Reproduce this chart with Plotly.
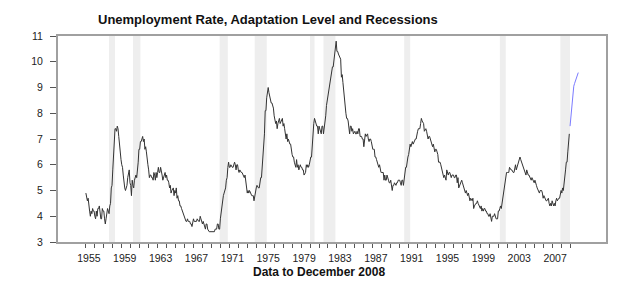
import plotly.graph_objects as go

start_year = 1955
# Monthly unemployment rate, Jan 1955 - Dec 2008 (one row per year)
unemployment_rate = [
    4.9, 4.7, 4.6, 4.7, 4.3, 4.2, 4.0, 4.2, 4.1, 4.3, 4.2, 4.2,
    4.0, 3.9, 4.2, 4.0, 4.3, 4.3, 4.4, 4.1, 3.9, 3.9, 4.3, 4.2,
    4.2, 3.9, 3.7, 3.9, 4.1, 4.3, 4.2, 4.1, 4.4, 4.5, 5.1, 5.2,
    5.8, 6.4, 6.7, 7.4, 7.4, 7.3, 7.5, 7.4, 7.1, 6.7, 6.2, 6.2,
    6.0, 5.9, 5.6, 5.2, 5.1, 5.0, 5.1, 5.2, 5.5, 5.7, 5.8, 5.3,
    5.2, 4.8, 5.4, 5.2, 5.1, 5.4, 5.5, 5.6, 5.5, 6.1, 6.1, 6.6,
    6.6, 6.9, 6.9, 7.0, 7.1, 6.9, 7.0, 6.6, 6.7, 6.5, 6.1, 6.0,
    5.8, 5.5, 5.6, 5.6, 5.5, 5.5, 5.4, 5.7, 5.6, 5.4, 5.7, 5.5,
    5.7, 5.9, 5.7, 5.7, 5.9, 5.6, 5.6, 5.4, 5.5, 5.5, 5.7, 5.5,
    5.6, 5.4, 5.4, 5.3, 5.1, 5.2, 4.9, 5.0, 5.1, 5.1, 4.8, 5.0,
    4.9, 5.1, 4.7, 4.8, 4.6, 4.6, 4.4, 4.4, 4.3, 4.2, 4.1, 4.0,
    4.0, 3.8, 3.8, 3.8, 3.9, 3.8, 3.8, 3.8, 3.7, 3.7, 3.6, 3.8,
    3.9, 3.8, 3.8, 3.8, 3.8, 3.9, 3.8, 3.8, 3.8, 4.0, 3.9, 3.8,
    3.7, 3.8, 3.7, 3.5, 3.5, 3.7, 3.7, 3.5, 3.4, 3.4, 3.4, 3.4,
    3.4, 3.4, 3.4, 3.4, 3.4, 3.5, 3.5, 3.5, 3.7, 3.7, 3.5, 3.5,
    3.9, 4.2, 4.4, 4.6, 4.8, 4.9, 5.0, 5.1, 5.4, 5.5, 5.9, 6.1,
    5.9, 5.9, 6.0, 5.9, 5.9, 5.9, 6.0, 6.1, 6.0, 5.8, 6.0, 6.0,
    5.8, 5.7, 5.8, 5.7, 5.7, 5.7, 5.6, 5.6, 5.5, 5.6, 5.3, 5.2,
    4.9, 5.0, 4.9, 5.0, 4.9, 4.9, 4.8, 4.8, 4.8, 4.6, 4.8, 4.9,
    5.1, 5.2, 5.1, 5.1, 5.1, 5.4, 5.5, 5.5, 5.9, 6.0, 6.6, 7.2,
    8.1, 8.1, 8.6, 8.8, 9.0, 8.8, 8.6, 8.4, 8.4, 8.4, 8.3, 8.2,
    7.9, 7.7, 7.6, 7.7, 7.4, 7.6, 7.8, 7.8, 7.6, 7.7, 7.8, 7.8,
    7.5, 7.6, 7.4, 7.2, 7.0, 7.2, 6.9, 7.0, 6.8, 6.8, 6.8, 6.4,
    6.4, 6.3, 6.3, 6.1, 6.0, 5.9, 6.2, 5.9, 6.0, 5.8, 5.9, 6.0,
    5.9, 5.9, 5.8, 5.8, 5.6, 5.7, 5.7, 6.0, 5.9, 6.0, 5.9, 6.0,
    6.3, 6.3, 6.3, 6.9, 7.5, 7.6, 7.8, 7.7, 7.5, 7.5, 7.5, 7.2,
    7.5, 7.4, 7.4, 7.2, 7.5, 7.5, 7.2, 7.4, 7.6, 7.9, 8.3, 8.5,
    8.6, 8.9, 9.0, 9.3, 9.4, 9.6, 9.8, 9.8, 10.1, 10.4, 10.8, 10.8,
    10.4, 10.4, 10.3, 10.2, 10.1, 10.1, 9.4, 9.5, 9.2, 8.8, 8.5, 8.3,
    8.0, 7.8, 7.8, 7.7, 7.4, 7.2, 7.5, 7.5, 7.3, 7.4, 7.2, 7.3,
    7.3, 7.2, 7.2, 7.3, 7.2, 7.4, 7.4, 7.1, 7.1, 7.1, 7.0, 7.0,
    6.7, 7.2, 7.2, 7.1, 7.2, 7.2, 7.0, 6.9, 7.0, 7.0, 6.9, 6.6,
    6.6, 6.6, 6.6, 6.3, 6.3, 6.2, 6.1, 6.0, 5.9, 6.0, 5.8, 5.7,
    5.7, 5.7, 5.7, 5.4, 5.6, 5.4, 5.4, 5.6, 5.4, 5.4, 5.3, 5.3,
    5.4, 5.2, 5.0, 5.2, 5.2, 5.3, 5.2, 5.2, 5.3, 5.3, 5.4, 5.4,
    5.4, 5.3, 5.2, 5.4, 5.4, 5.2, 5.5, 5.7, 5.9, 5.9, 6.2, 6.3,
    6.4, 6.6, 6.8, 6.7, 6.9, 6.9, 6.8, 6.9, 6.9, 7.0, 7.0, 7.3,
    7.3, 7.4, 7.4, 7.4, 7.6, 7.8, 7.7, 7.6, 7.6, 7.3, 7.4, 7.4,
    7.3, 7.1, 7.0, 7.1, 7.1, 7.0, 6.9, 6.8, 6.7, 6.8, 6.6, 6.5,
    6.6, 6.6, 6.5, 6.4, 6.1, 6.1, 6.1, 6.0, 5.9, 5.8, 5.6, 5.5,
    5.6, 5.4, 5.4, 5.8, 5.6, 5.6, 5.7, 5.7, 5.6, 5.5, 5.6, 5.6,
    5.6, 5.5, 5.5, 5.6, 5.6, 5.3, 5.5, 5.1, 5.2, 5.2, 5.4, 5.4,
    5.3, 5.2, 5.2, 5.1, 4.9, 5.0, 4.9, 4.8, 4.9, 4.7, 4.6, 4.7,
    4.6, 4.6, 4.7, 4.3, 4.4, 4.5, 4.5, 4.5, 4.6, 4.5, 4.4, 4.4,
    4.3, 4.4, 4.2, 4.3, 4.2, 4.3, 4.3, 4.2, 4.2, 4.1, 4.1, 4.0,
    4.0, 4.1, 4.0, 3.8, 4.0, 4.0, 4.0, 4.1, 3.9, 3.9, 3.9, 3.9,
    4.2, 4.2, 4.3, 4.4, 4.3, 4.5, 4.6, 4.9, 5.0, 5.3, 5.5, 5.7,
    5.7, 5.7, 5.7, 5.9, 5.8, 5.8, 5.8, 5.7, 5.7, 5.7, 5.9, 6.0,
    5.8, 5.9, 5.9, 6.0, 6.1, 6.3, 6.2, 6.1, 6.1, 6.0, 5.8, 5.7,
    5.7, 5.6, 5.8, 5.6, 5.6, 5.6, 5.5, 5.4, 5.4, 5.5, 5.4, 5.4,
    5.3, 5.4, 5.2, 5.2, 5.1, 5.0, 5.0, 4.9, 5.0, 5.0, 5.0, 4.9,
    4.7, 4.8, 4.7, 4.7, 4.6, 4.6, 4.7, 4.7, 4.5, 4.4, 4.5, 4.4,
    4.6, 4.5, 4.4, 4.5, 4.4, 4.6, 4.7, 4.6, 4.7, 4.7, 4.7, 5.0,
    5.0, 4.9, 5.1, 5.0, 5.4, 5.6, 5.8, 6.1, 6.1, 6.5, 6.8, 7.2,
]

# Adaptation level path, monthly 2009
adaptation_start_year = 2009
adaptation_level = [7.5, 7.85, 8.2, 8.55, 8.85, 9.05, 9.15, 9.25, 9.35, 9.45, 9.52, 9.58]

# Recessions (decimal years)
recession_start = [1957.58, 1960.25, 1969.92, 1973.83, 1980.0, 1981.5, 1990.5, 2001.17, 2007.92]
recession_end = [1958.25, 1961.08, 1970.83, 1975.17, 1980.5, 1982.83, 1991.17, 2001.83, 2008.99]

tick_years = list(range(1955, 2010))
tick_labels = [str(y) if (y - 1955) % 4 == 0 else "" for y in tick_years]

x_ur = [start_year + i / 12 for i in range(len(unemployment_rate))]
x_ad = [adaptation_start_year + i / 12 for i in range(len(adaptation_level))]

fig = go.Figure()
for s, e in zip(recession_start, recession_end):
    fig.add_shape(type="rect", xref="x", yref="paper", x0=s, x1=e, y0=0, y1=1,
                  fillcolor="#eeeeee", line=dict(width=0), layer="below")

fig.add_trace(go.Scatter(x=x_ur, y=unemployment_rate, mode="lines",
                         line=dict(color="#333333", width=1), showlegend=False))
fig.add_trace(go.Scatter(x=x_ad, y=adaptation_level, mode="lines",
                         line=dict(color="#7b7bff", width=1), showlegend=False))

L, R, T, B = 58, 34, 36, 51
W, H = 640, 293
pw, ph = W - L - R, H - T - B

fig.update_layout(
    width=W, height=H,
    margin=dict(l=L, r=R, t=T, b=B),
    paper_bgcolor="white", plot_bgcolor="white",
    font=dict(family="Liberation Sans, Arial, sans-serif", size=10, color="#222222"),
    xaxis=dict(range=[1951.89, 2013.01], tickvals=tick_years, ticktext=tick_labels,
               ticks="outside", ticklen=4, tickcolor="#555555", tickwidth=1,
               showgrid=False, zeroline=False, showline=True, linecolor="#a0a0a0",
               linewidth=2, mirror=True, tickfont=dict(size=10.5), ticklabelshift=3,
               ticklabelstandoff=1),
    yaxis=dict(range=[3, 11], tickvals=list(range(3, 12)),
               ticks="outside", ticklen=6, tickcolor="#555555", tickwidth=1,
               showgrid=False, zeroline=False, showline=True, linecolor="#a0a0a0",
               linewidth=2, mirror=True, ticklabelstandoff=5, tickfont=dict(size=10.5)),
    annotations=[
        dict(text="<b>Unemployment Rate, Adaptation Level and Recessions</b>",
             xref="paper", yref="paper", x=(268 - L) / pw, y=(H - B - 19) / ph,
             xanchor="center", yanchor="middle", showarrow=False,
             font=dict(size=13, color="#111111")),
        dict(text="<b>Data to December 2008</b>",
             xref="paper", yref="paper", x=(319 - L) / pw, y=(H - B - 272) / ph,
             xanchor="center", yanchor="middle", showarrow=False,
             font=dict(size=12, color="#111111")),
    ],
)

fig.write_html("out.html")
